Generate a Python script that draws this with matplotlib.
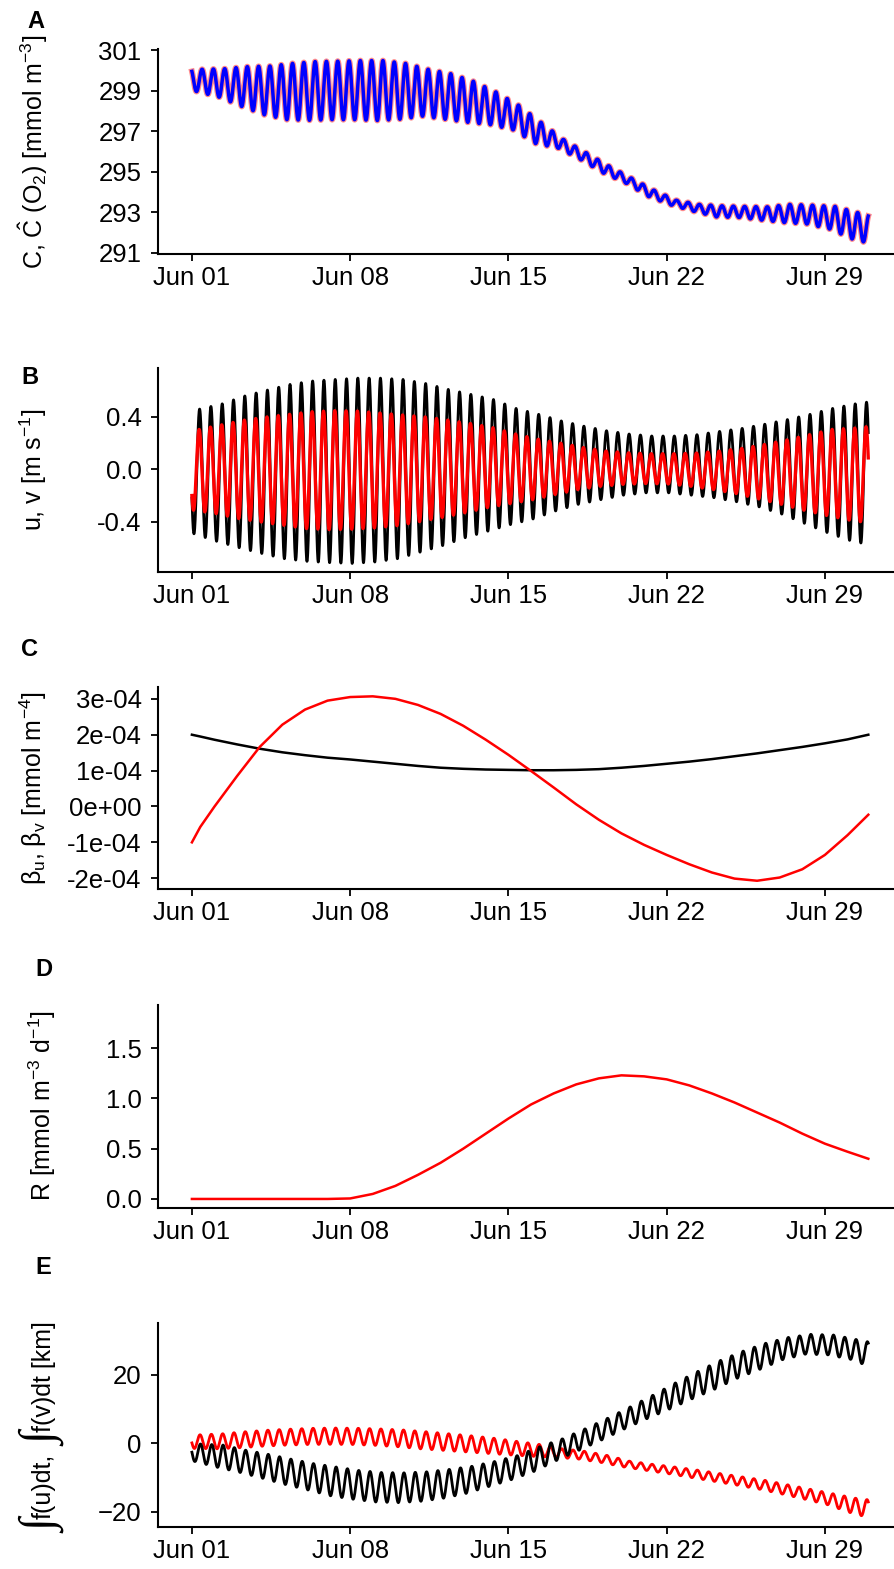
import numpy as np
import matplotlib
matplotlib.use("Agg")
import matplotlib.pyplot as plt

plt.rcParams['font.family'] = ['Liberation Sans', 'DejaVu Sans']
plt.rcParams['mathtext.fontset'] = 'custom'
plt.rcParams['mathtext.rm'] = 'Liberation Sans'
plt.rcParams['mathtext.it'] = 'Liberation Sans:italic'
plt.rcParams['mathtext.bf'] = 'Liberation Sans:bold'
plt.rcParams['mathtext.default'] = 'regular'

# ---------------- data ----------------
tick_days = [0, 7, 14, 21, 28]
tick_labels = ["Jun 01", "Jun 08", "Jun 15", "Jun 22", "Jun 29"]
t_end = 29.92          # last sample (days after Jun 01 00:00)
tide_period = 0.5      # days

env_days = list(range(31))   # daily envelope read-outs

# Panel A: O2 concentration, peak / trough envelopes
c_peak_phase = 0.45
c_hi = [300.07, 300.10, 300.20, 300.23, 300.36, 300.45, 300.47, 300.50, 300.50, 300.36,
        300.07, 299.85, 299.48, 298.95, 298.30, 297.45, 296.60, 295.95, 295.30, 294.70,
        294.10, 293.60, 293.40, 293.33, 293.30, 293.28, 293.40, 293.36, 293.30, 293.00, 292.75]
c_lo = [298.97, 298.69, 298.23, 297.82, 297.58, 297.55, 297.58, 297.58, 297.54, 297.60,
        297.75, 297.60, 297.45, 297.33, 297.08, 296.40, 296.17, 295.60, 294.94, 294.44,
        293.78, 293.36, 293.05, 292.78, 292.75, 292.62, 292.50, 292.43, 292.18, 291.69, 291.40]
chat_hi = c_hi
chat_lo = c_lo

# Panel B: velocities u (black), v (red)
u_peak_phase = 0.34
u_hi = [0.46, 0.50, 0.56, 0.605, 0.648, 0.674, 0.686, 0.696, 0.696, 0.686,
        0.655, 0.61, 0.572, 0.533, 0.465, 0.42, 0.37, 0.33, 0.295, 0.27,
        0.255, 0.255, 0.265, 0.29, 0.313, 0.345, 0.38, 0.42, 0.465, 0.50, 0.525]
u_lo = [-0.49, -0.547, -0.596, -0.64, -0.68, -0.70, -0.71, -0.716, -0.705, -0.68,
        -0.63, -0.58, -0.52, -0.47, -0.42, -0.377, -0.316, -0.266, -0.23, -0.196,
        -0.178, -0.178, -0.196, -0.215, -0.246, -0.285, -0.34, -0.41, -0.48, -0.54, -0.58]
v_peak_phase = 0.32
v_hi = [0.305, 0.34, 0.376, 0.40, 0.42, 0.44, 0.448, 0.445, 0.43, 0.415,
        0.40, 0.376, 0.35, 0.318, 0.27, 0.23, 0.20, 0.167, 0.14, 0.127,
        0.12, 0.12, 0.125, 0.14, 0.16, 0.19, 0.225, 0.265, 0.305, 0.315, 0.335]
v_lo = [-0.31, -0.336, -0.374, -0.40, -0.425, -0.45, -0.458, -0.455, -0.445, -0.428,
        -0.397, -0.365, -0.33, -0.29, -0.26, -0.23, -0.19, -0.153, -0.128, -0.113,
        -0.107, -0.11, -0.128, -0.153, -0.183, -0.224, -0.265, -0.31, -0.35, -0.385, -0.41]

# Panel C: beta_u (black), beta_v (red)
beta_days = [0, 0.37] + list(range(1, 30)) + [29.92]
beta_u = [2.00, 1.95, 1.86, 1.73, 1.61, 1.51, 1.43, 1.36, 1.31, 1.25, 1.19,
          1.13, 1.08, 1.05, 1.03, 1.02, 1.01, 1.01, 1.02, 1.04, 1.08,
          1.13, 1.19, 1.25, 1.32, 1.40, 1.48, 1.57, 1.66, 1.76, 1.87, 2.00]
beta_v = [-1.00, -0.57, 0.00, 0.85, 1.66, 2.28, 2.70, 2.95, 3.05, 3.07, 3.00,
          2.83, 2.58, 2.25, 1.86, 1.44, 0.99, 0.53, 0.06, -0.37, -0.75,
          -1.07, -1.35, -1.61, -1.84, -2.01, -2.07, -1.98, -1.75, -1.35, -0.80, -0.23]
beta_scale = 1e-4

# Panel D: R
r_days = list(range(30)) + [29.92]
r_vals = [0, 0, 0, 0, 0, 0, 0, 0.005, 0.05, 0.13,
          0.24, 0.36, 0.50, 0.65, 0.80, 0.94, 1.05, 1.14, 1.20, 1.23,
          1.22, 1.19, 1.13, 1.05, 0.96, 0.86, 0.76, 0.65, 0.55, 0.47, 0.40]

# Panel E: integrated displacement, f(u) black, f(v) red
fu_peak_phase = 0.38
fu_hi = [-0.2, -0.5, -2.0, -3.2, -4.6, -5.9, -6.9, -7.9, -8.5, -8.6,
         -8.3, -7.6, -6.7, -5.3, -3.6, -1.0, 1.3, 4.2, 7.3, 10.6,
         14.0, 17.6, 21.0, 24.2, 26.9, 29.2, 30.9, 31.8, 31.6, 30.3, 29.0]
fu_lo = [-5.3, -7.0, -8.5, -10.2, -12.0, -13.6, -15.3, -16.3, -17.1, -17.3,
         -16.9, -16.0, -14.6, -12.6, -10.6, -8.2, -5.0, -2.0, 1.0, 4.2,
         7.2, 10.0, 13.0, 15.8, 19.0, 21.6, 24.4, 26.0, 25.8, 24.5, 22.0]
fv_peak_phase = 0.36
fv_hi = [2.5, 2.8, 3.4, 3.85, 4.15, 4.4, 4.48, 4.4, 4.2, 3.9,
         3.4, 2.8, 2.2, 1.5, 0.6, -0.3, -1.56, -2.3, -3.5, -5.2,
         -6.1, -6.9, -7.8, -8.8, -9.8, -10.8, -12.1, -13.4, -14.7, -16.0, -16.8]
fv_lo = [-1.5, -1.6, -1.3, -0.85, -0.55, -0.35, -0.29, -0.35, -0.6, -1.0,
         -1.6, -2.05, -2.5, -2.95, -3.4, -3.8, -4.1, -4.6, -5.6, -6.9,
         -7.9, -8.9, -10.0, -11.1, -12.2, -13.4, -14.8, -16.3, -17.9, -20.2, -22.0]

# ---------------- helpers ----------------
t = np.arange(0, t_end, 1.0 / 144)
dd = np.asarray(env_days, dtype=float)


def tidal(hi, lo, peak):
    h = np.interp(t, dd + peak, hi)
    l = np.interp(t, dd + peak - tide_period / 2, lo)
    return (h + l) / 2 + (h - l) / 2 * np.cos(2 * np.pi * (t - peak) / tide_period)


W, H = 895, 1569
fig = plt.figure(figsize=(W / 100, H / 100), dpi=100)

LEFT = 158
FS = 18.5


def make_ax(top, bottom):
    ax = fig.add_axes([LEFT / W, 1 - bottom / H, (W - LEFT) / W, (bottom - top) / H])
    ax.spines['top'].set_visible(False)
    ax.spines['right'].set_visible(False)
    for s in ('left', 'bottom'):
        ax.spines[s].set_linewidth(1.5)
    ax.tick_params(axis='both', direction='out', length=4.8, width=1.3,
                   labelsize=FS, colors='black')
    ax.tick_params(axis='y', pad=7)
    ax.tick_params(axis='x', pad=4)
    ax.set_xlim(-1.5, 31.1)
    ax.set_xticks(tick_days, tick_labels)
    ax.patch.set_alpha(0)
    return ax


# Panel A
axA = make_ax(49, 254)
axA.plot(t, tidal(c_hi, c_lo, c_peak_phase), color='#ff0000', lw=4.2, alpha=0.45,
         solid_joinstyle='round')
axA.plot(t, tidal(chat_hi, chat_lo, c_peak_phase), color='#0000ff', lw=2.5)
axA.set_ylim(290.95, 301.07)
axA.set_yticks([291, 293, 295, 297, 299, 301])

# Panel B
axB = make_ax(368, 572)
axB.plot(t, tidal(u_hi, u_lo, u_peak_phase), color='black', lw=2.0)
axB.plot(t, tidal(v_hi, v_lo, v_peak_phase), color='#ff0000', lw=2.4)
axB.set_ylim(-0.781, 0.773)
axB.set_yticks([-0.4, 0.0, 0.4], ["-0.4", "0.0", "0.4"])

# Panel C
axC = make_ax(687, 889)
axC.plot(beta_days, np.array(beta_u) * beta_scale, color='black', lw=1.8)
axC.plot(beta_days, np.array(beta_v) * beta_scale, color='#ff0000', lw=1.8)
axC.set_ylim(-2.30e-4, 3.33e-4)
axC.set_yticks([-2e-4, -1e-4, 0, 1e-4, 2e-4, 3e-4],
               ["-2e-04", "-1e-04", "0e+00", "1e-04", "2e-04", "3e-04"])

# Panel D
axD = make_ax(1005, 1208)
axD.plot(r_days, r_vals, color='#ff0000', lw=1.8)
axD.set_ylim(-0.09, 1.93)
axD.set_yticks([0.0, 0.5, 1.0, 1.5], ["0.0", "0.5", "1.0", "1.5"])

# Panel E
axE = make_ax(1323, 1527)
axE.plot(t, tidal(fv_hi, fv_lo, fv_peak_phase), color='#ff0000', lw=2.0)
axE.plot(t, tidal(fu_hi, fu_lo, fu_peak_phase), color='black', lw=2.0)
axE.set_ylim(-24.4, 35.1)
axE.set_yticks([-20, 0, 20])


# y labels
def ylab(x, y, s, **kw):
    fig.text(x / W, 1 - y / H, s, rotation=90, ha='center', va='center',
             fontsize=18, **kw)


ylab(33, 152, r"C, $\hat{\mathrm{C}}$ (O$_2$) [mmol m$^{-3}$]")
ylab(33, 470, r"u, v [m s$^{-1}$]")
ylab(33, 788, r"$\beta_u$, $\beta_v$ [mmol m$^{-4}$]")
ylab(42, 1106, r"R [mmol m$^{-3}$ d$^{-1}$]")

# Panel E label: stacked pieces so the integral signs can be tall
int_font = dict(fontsize=34, family=['Liberation Serif', 'DejaVu Serif'])
e_pieces = [("\u222b", int_font),
            ("f(u)dt,", dict(fontsize=18)),
            ("\u222b", int_font),
            ("f(v)dt [km]", dict(fontsize=18))]
e_gaps = [1, 7, 1, 0]   # extra pixel gap after each piece
renderer = fig.canvas.get_renderer()
texts = []
for s, kw in e_pieces:
    tx = fig.text(0, 0, s, rotation=90, ha='center', va='bottom', **kw)
    texts.append(tx)
heights = [tx.get_window_extent(renderer).height for tx in texts]
total = sum(heights) + sum(e_gaps)
y_cursor = 1427 + total / 2     # bottom of label in pixels from top
x_lab = 44
for tx, h, g in zip(texts, heights, e_gaps):
    tx.set_position((x_lab / W, 1 - y_cursor / H))
    y_cursor -= h + g

# panel letters
for letter, x, y in [("A", 36, 22), ("B", 30, 377), ("C", 30, 650),
                     ("D", 44, 970), ("E", 43, 1268)]:
    fig.text(x / W, 1 - y / H, letter, fontsize=17, fontweight='bold',
             ha='center', va='center')

fig.savefig("out.png", dpi=100)
